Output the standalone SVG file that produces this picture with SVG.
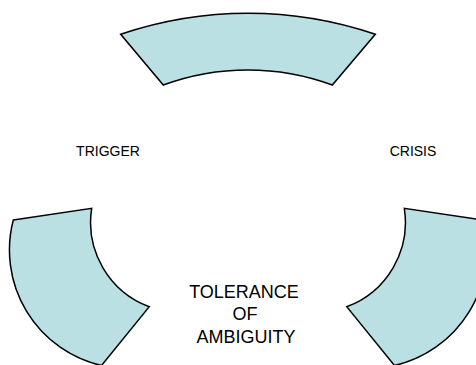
<svg xmlns="http://www.w3.org/2000/svg" width="476" height="365" viewBox="0 0 476 365">
<style>
.seg{fill:#BBE0E3;stroke:#000;stroke-width:1.5;stroke-linejoin:miter}
.lbl{font-family:"Liberation Sans",Arial,sans-serif;font-size:14px;fill:#000;text-anchor:middle}
.big{font-size:18px}
</style>
<rect width="476" height="365" fill="#fff"/>
<g id="connectors"></g>
<g id="node-top">
<path class="seg" d="M120.7,34.3 A396,396 0 0 1 375.3,34.3 L332.3,85 A245,245 0 0 0 163.3,85 Z"/>
</g>
<g id="node-left">
<path class="seg" d="M13.3,220 L91.7,208.3 A90,90 0 0 0 149.3,306.7 L101.5,365.5 A118.5,118.5 0 0 1 13.3,220 Z"/>
</g>
<g id="node-right">
<path class="seg" d="M482.7,220 L404.3,208.3 A90,90 0 0 1 346.7,306.7 L394.5,365.5 A118.5,118.5 0 0 0 482.7,220 Z"/>
</g>
<g id="label-trigger"><text class="lbl" x="108" y="156">TRIGGER</text></g>
<g id="label-crisis"><text class="lbl" x="413" y="156">CRISIS</text></g>
<g id="label-tolerance">
<text class="lbl big" x="244" y="298">TOLERANCE</text>
<text class="lbl big" x="245" y="320">OF</text>
<text class="lbl big" x="246" y="343">AMBIGUITY</text>
</g>
</svg>
